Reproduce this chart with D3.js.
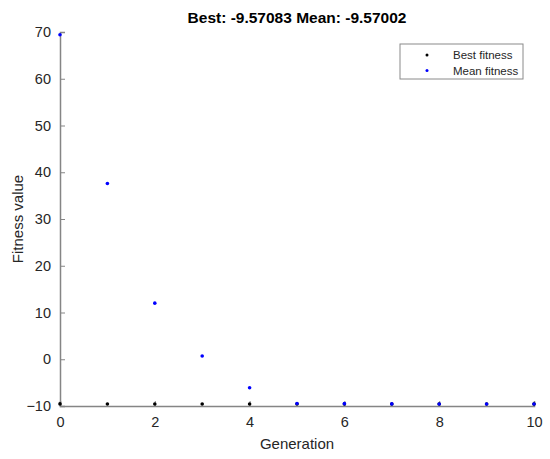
<!DOCTYPE html>
<html><head><meta charset="utf-8">
<script src="https://cdn.jsdelivr.net/npm/d3@7"></script>
<style>body{margin:0;background:#fff}svg{display:block}text{font-family:"Liberation Sans",Arial,sans-serif}</style>
</head><body><svg id="c" width="550" height="459"></svg>
<script>
const generations = [0,1,2,3,4,5,6,7,8,9,10];
const bestFitness = [-9.55,-9.56,-9.565,-9.568,-9.57,-9.5705,-9.5707,-9.5708,-9.57083,-9.57083,-9.57083];
const meanFitness = [69.4,37.6,12.0,0.7,-6.1,-9.45,-9.5,-9.55,-9.56,-9.565,-9.57002];
const xTicks = [0,2,4,6,8,10];
const yTicks = [-10,0,10,20,30,40,50,60,70];
const titleText = "Best: -9.57083 Mean: -9.57002";

const svg = d3.select("#c");
const m = {l:60, r:534, t:32, b:406};
const x = d3.scaleLinear().domain([0,10]).range([m.l, m.r]);
const y = d3.scaleLinear().domain([-10,70]).range([m.b, m.t]);
const axCol = "#858585", txtCol = "#262626";

const gx = svg.append("g").attr("transform",`translate(0,${m.b})`)
  .call(d3.axisBottom(x).tickValues(xTicks).tickSize(-5).tickPadding(11).tickFormat(d3.format("d")));
const gy = svg.append("g").attr("transform",`translate(${m.l},0)`)
  .call(d3.axisLeft(y).tickValues(yTicks).tickSize(-5).tickPadding(9).tickFormat(d3.format("d")));
[gx,gy].forEach(g=>{
  g.select(".domain").attr("stroke",axCol).attr("stroke-width",1.5);
  g.selectAll(".tick line").attr("stroke",axCol);
  g.selectAll(".tick text").attr("fill",txtCol).style("font-size","14.5px");
});

svg.append("g").selectAll("circle").data(generations).join("circle")
  .attr("cx",d=>x(d)).attr("cy",(d,i)=>y(bestFitness[i])).attr("r",1.8).attr("fill","#000");
svg.append("g").selectAll("circle").data(generations).join("circle")
  .attr("cx",d=>x(d)).attr("cy",(d,i)=>y(meanFitness[i])).attr("r",1.8).attr("fill","#0000ff");

svg.append("text").attr("x",(m.l+m.r)/2).attr("y",23).attr("text-anchor","middle")
  .style("font-size","15.5px").style("font-weight","bold").attr("fill","#000").text(titleText);
svg.append("text").attr("x",(m.l+m.r)/2).attr("y",449).attr("text-anchor","middle")
  .style("font-size","15px").attr("fill",txtCol).text("Generation");
svg.append("text").attr("transform",`translate(23,${(m.t+m.b)/2}) rotate(-90)`).attr("text-anchor","middle")
  .style("font-size","15px").attr("fill",txtCol).text("Fitness value");

const lg = svg.append("g").attr("transform","translate(400,44)");
lg.append("rect").attr("width",123).attr("height",35).attr("fill","#fff").attr("stroke","#8a8a8a");
const labels = ["Best fitness","Mean fitness"], cols = ["#000","#0000ff"];
labels.forEach((t,i)=>{
  lg.append("circle").attr("cx",27).attr("cy",11+i*15.5).attr("r",1.5).attr("fill",cols[i]);
  lg.append("text").attr("x",53).attr("y",15+i*15.5).style("font-size","11.5px").attr("fill",txtCol).text(t);
});
</script></body></html>
